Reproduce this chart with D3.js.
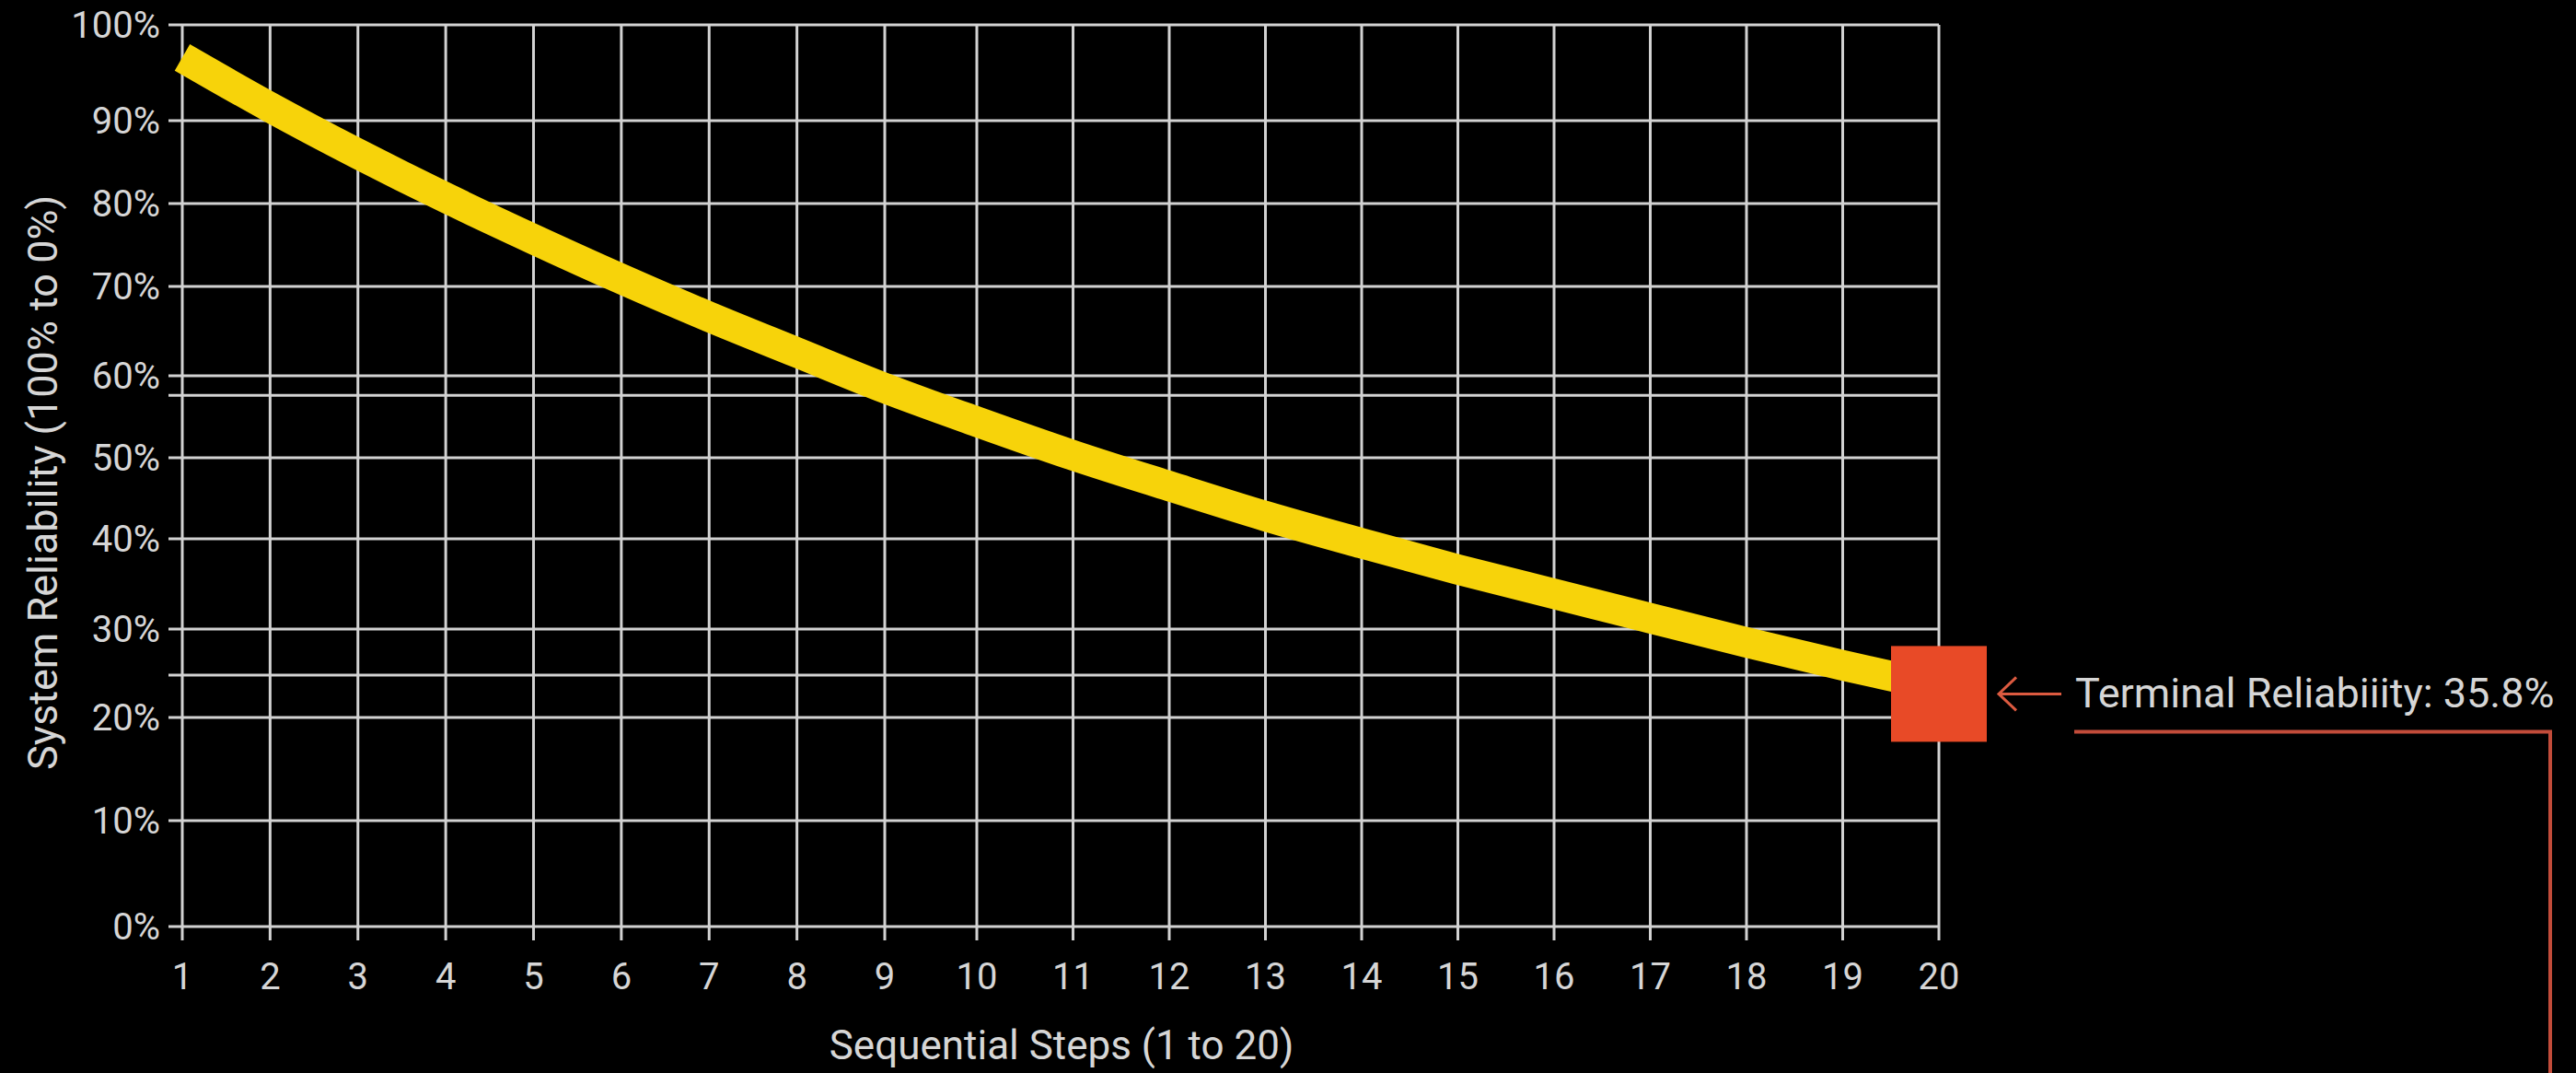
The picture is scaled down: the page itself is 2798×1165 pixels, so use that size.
<!DOCTYPE html>
<html>
<head>
<meta charset="utf-8">
<script src="https://cdn.jsdelivr.net/npm/d3@7"></script>
<style>
  html, body { margin: 0; padding: 0; background: #000; }
  svg { display: block; }
  text { font-family: Roboto, "Noto Sans", sans-serif; fill: #d6d6d6; }
</style>
</head>
<body>
<svg id="chart" width="2798" height="1165"></svg>
<script>
// ---- data ----
const steps = [1, 2, 3, 4, 5, 6, 7, 8, 9, 10, 11, 12, 13, 14, 15, 16, 17, 18, 19, 20];
const reliability = [96.6, 91.4, 86.0, 80.7, 75.7, 70.9, 66.6, 62.6, 58.5, 54.4,
                     50.3, 46.5, 42.8, 39.5, 36.6, 33.9, 31.2, 28.5, 25.9, 23.5];
const yTicks = [0, 10, 20, 30, 40, 50, 60, 70, 80, 90, 100];
const yTickLabels = ["0%", "10%", "20%", "30%", "40%", "50%", "60%", "70%", "80%", "90%", "100%"];
const extraGrid = [57.6, 24.8];
const xTitle = "Sequential Steps (1 to 20)";
const yTitle = "System Reliability (100% to 0%)";
const terminalLabel = "Terminal Reliabiiity: 35.8%";

// ---- scales (the reference axes are unevenly spaced) ----
const x = d3.scaleLinear().domain([1, 9, 10, 20]).range([198, 961, 1061, 2106]);
const y = d3.scaleLinear()
  .domain([0, 10, 20, 30, 40, 50, 60, 70, 80, 90, 100])
  .range([1006, 891, 779, 683, 585, 497, 408, 311, 221, 131, 27]);

const svg = d3.select("#chart");
svg.append("rect").attr("width", 2798).attr("height", 1165).attr("fill", "#000");

const gridColor = "#d2d2d2";
const x0 = x(steps[0]), x1 = x(steps[steps.length - 1]);
const yTop = y(100), yBot = y(0);

// horizontal grid lines (with left tick extension)
svg.append("g").selectAll("line").data(yTicks.concat(extraGrid)).join("line")
  .attr("x1", x0 - 15).attr("x2", x1)
  .attr("y1", d => y(d)).attr("y2", d => y(d))
  .attr("stroke", gridColor).attr("stroke-width", 3);

// vertical grid lines (with bottom tick extension)
svg.append("g").selectAll("line").data(steps).join("line")
  .attr("x1", d => x(d)).attr("x2", d => x(d))
  .attr("y1", yTop).attr("y2", yBot + 15)
  .attr("stroke", gridColor).attr("stroke-width", 3);

// y tick labels
svg.append("g").selectAll("text").data(yTicks).join("text")
  .attr("x", x0 - 24).attr("y", d => y(d)).attr("dy", "0.36em")
  .attr("text-anchor", "end").attr("font-size", 40)
  .text((d, i) => yTickLabels[i]);

// x tick labels
svg.append("g").selectAll("text").data(steps).join("text")
  .attr("x", d => x(d)).attr("y", 1074)
  .attr("text-anchor", "middle").attr("font-size", 40)
  .text(d => d);

// axis titles
svg.append("text").attr("x", (x0 + x1) / 2 + 1).attr("y", 1150)
  .attr("text-anchor", "middle").attr("font-size", 44).text(xTitle);
svg.append("text").attr("transform", "translate(62,524) rotate(-90)")
  .attr("text-anchor", "middle").attr("font-size", 45).text(yTitle);

// the reliability line
const line = d3.line().x((d, i) => x(steps[i])).y(d => y(d)).curve(d3.curveCatmullRom.alpha(0.5));
svg.append("path").datum(reliability)
  .attr("d", line).attr("fill", "none")
  .attr("stroke", "#f7d30a").attr("stroke-width", 33).attr("stroke-linecap", "butt");

// terminal marker
const lastX = x(steps[steps.length - 1]);
const lastY = y(reliability[reliability.length - 1]) + 8;
const sq = 104;
svg.append("rect").attr("x", lastX - sq / 2).attr("y", lastY - sq / 2)
  .attr("width", sq).attr("height", sq).attr("fill", "#e84a27");

// arrow
const arrowColor = "#dc5a40";
const ax = lastX + sq / 2 + 13;
svg.append("line").attr("x1", ax).attr("x2", ax + 68).attr("y1", lastY).attr("y2", lastY)
  .attr("stroke", arrowColor).attr("stroke-width", 3);
svg.append("path")
  .attr("d", `M${ax + 19},${lastY - 18} L${ax},${lastY} L${ax + 19},${lastY + 18}`)
  .attr("fill", "none").attr("stroke", arrowColor).attr("stroke-width", 3);

// annotation label
svg.append("text").attr("x", 2254).attr("y", lastY + 15)
  .attr("font-size", 45).text(terminalLabel);

// connector line
svg.append("path")
  .attr("d", `M2253,${lastY + 41} H2770 V1170`)
  .attr("fill", "none").attr("stroke", "#c24c3a").attr("stroke-width", 4);
</script>
</body>
</html>
